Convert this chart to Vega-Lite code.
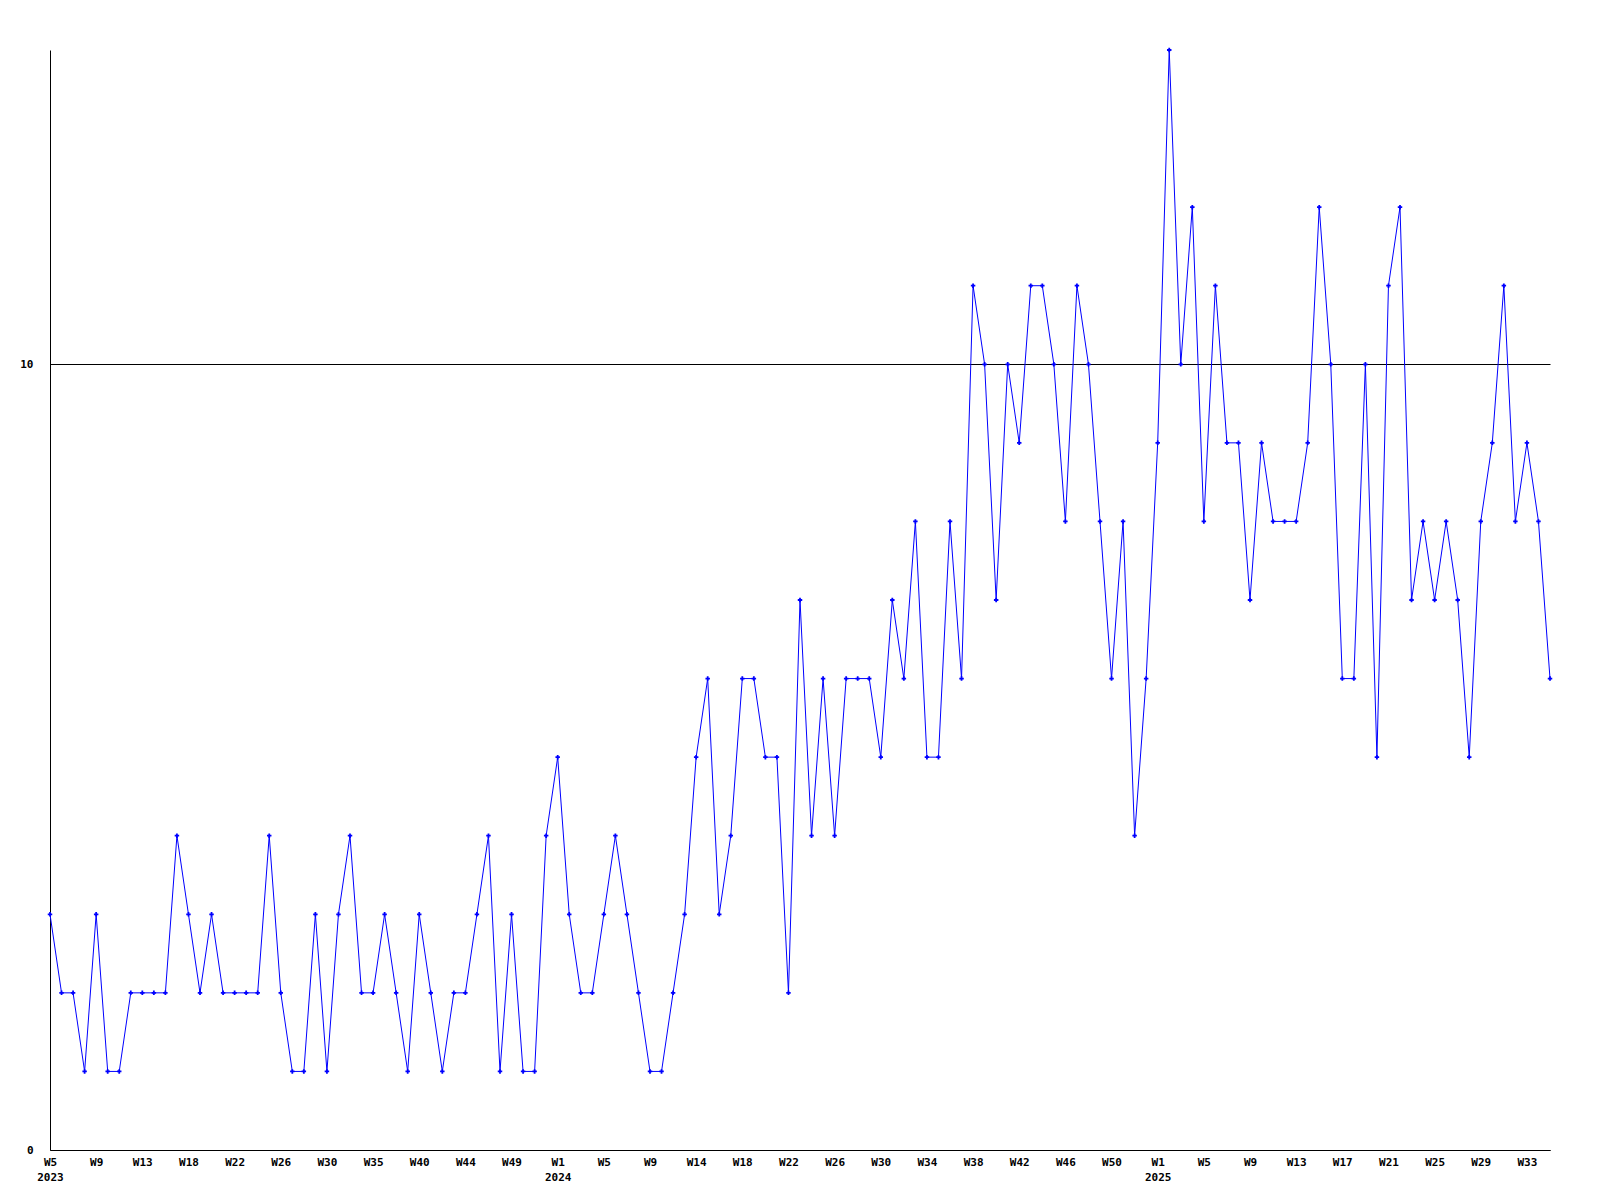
{
  "$schema": "https://vega.github.io/schema/vega-lite/v6.json",
  "width": 1500,
  "height": 1100,
  "autosize": "none",
  "padding": {"left": 50, "top": 50, "right": 50, "bottom": 50},
  "background": "white",
  "config": {
    "view": {"stroke": null},
    "axis": {"labelFont": "DejaVu Sans Mono", "labelFontSize": 11, "labelFontWeight": "bold", "labelColor": "black", "domainColor": "black", "domainWidth": 1, "ticks": false, "title": null}
  },
  "data": {
    "values": [
      {"week": "2023-W5", "count": 3}, {"week": "2023-W6", "count": 2}, {"week": "2023-W7", "count": 2}, {"week": "2023-W8", "count": 1},
      {"week": "2023-W9", "count": 3}, {"week": "2023-W10", "count": 1}, {"week": "2023-W11", "count": 1}, {"week": "2023-W12", "count": 2},
      {"week": "2023-W13", "count": 2}, {"week": "2023-W14", "count": 2}, {"week": "2023-W15", "count": 2}, {"week": "2023-W17", "count": 4},
      {"week": "2023-W18", "count": 3}, {"week": "2023-W19", "count": 2}, {"week": "2023-W20", "count": 3}, {"week": "2023-W21", "count": 2},
      {"week": "2023-W22", "count": 2}, {"week": "2023-W23", "count": 2}, {"week": "2023-W24", "count": 2}, {"week": "2023-W25", "count": 4},
      {"week": "2023-W26", "count": 2}, {"week": "2023-W27", "count": 1}, {"week": "2023-W28", "count": 1}, {"week": "2023-W29", "count": 3},
      {"week": "2023-W30", "count": 1}, {"week": "2023-W31", "count": 3}, {"week": "2023-W32", "count": 4}, {"week": "2023-W34", "count": 2},
      {"week": "2023-W35", "count": 2}, {"week": "2023-W36", "count": 3}, {"week": "2023-W37", "count": 2}, {"week": "2023-W39", "count": 1},
      {"week": "2023-W40", "count": 3}, {"week": "2023-W41", "count": 2}, {"week": "2023-W42", "count": 1}, {"week": "2023-W43", "count": 2},
      {"week": "2023-W44", "count": 2}, {"week": "2023-W45", "count": 3}, {"week": "2023-W46", "count": 4}, {"week": "2023-W48", "count": 1},
      {"week": "2023-W49", "count": 3}, {"week": "2023-W50", "count": 1}, {"week": "2023-W51", "count": 1}, {"week": "2023-W52", "count": 4},
      {"week": "2024-W1", "count": 5}, {"week": "2024-W2", "count": 3}, {"week": "2024-W3", "count": 2}, {"week": "2024-W4", "count": 2},
      {"week": "2024-W5", "count": 3}, {"week": "2024-W6", "count": 4}, {"week": "2024-W7", "count": 3}, {"week": "2024-W8", "count": 2},
      {"week": "2024-W9", "count": 1}, {"week": "2024-W10", "count": 1}, {"week": "2024-W11", "count": 2}, {"week": "2024-W13", "count": 3},
      {"week": "2024-W14", "count": 5}, {"week": "2024-W15", "count": 6}, {"week": "2024-W16", "count": 3}, {"week": "2024-W17", "count": 4},
      {"week": "2024-W18", "count": 6}, {"week": "2024-W19", "count": 6}, {"week": "2024-W20", "count": 5}, {"week": "2024-W21", "count": 5},
      {"week": "2024-W22", "count": 2}, {"week": "2024-W23", "count": 7}, {"week": "2024-W24", "count": 4}, {"week": "2024-W25", "count": 6},
      {"week": "2024-W26", "count": 4}, {"week": "2024-W27", "count": 6}, {"week": "2024-W28", "count": 6}, {"week": "2024-W29", "count": 6},
      {"week": "2024-W30", "count": 5}, {"week": "2024-W31", "count": 7}, {"week": "2024-W32", "count": 6}, {"week": "2024-W33", "count": 8},
      {"week": "2024-W34", "count": 5}, {"week": "2024-W35", "count": 5}, {"week": "2024-W36", "count": 8}, {"week": "2024-W37", "count": 6},
      {"week": "2024-W38", "count": 11}, {"week": "2024-W39", "count": 10}, {"week": "2024-W40", "count": 7}, {"week": "2024-W41", "count": 10},
      {"week": "2024-W42", "count": 9}, {"week": "2024-W43", "count": 11}, {"week": "2024-W44", "count": 11}, {"week": "2024-W45", "count": 10},
      {"week": "2024-W46", "count": 8}, {"week": "2024-W47", "count": 11}, {"week": "2024-W48", "count": 10}, {"week": "2024-W49", "count": 8},
      {"week": "2024-W50", "count": 6}, {"week": "2024-W51", "count": 8}, {"week": "2024-W52", "count": 4}, {"week": "2024-W53", "count": 6},
      {"week": "2025-W1", "count": 9}, {"week": "2025-W2", "count": 14}, {"week": "2025-W3", "count": 10}, {"week": "2025-W4", "count": 12},
      {"week": "2025-W5", "count": 8}, {"week": "2025-W6", "count": 11}, {"week": "2025-W7", "count": 9}, {"week": "2025-W8", "count": 9},
      {"week": "2025-W9", "count": 7}, {"week": "2025-W10", "count": 9}, {"week": "2025-W11", "count": 8}, {"week": "2025-W12", "count": 8},
      {"week": "2025-W13", "count": 8}, {"week": "2025-W14", "count": 9}, {"week": "2025-W15", "count": 12}, {"week": "2025-W16", "count": 10},
      {"week": "2025-W17", "count": 6}, {"week": "2025-W18", "count": 6}, {"week": "2025-W19", "count": 10}, {"week": "2025-W20", "count": 5},
      {"week": "2025-W21", "count": 11}, {"week": "2025-W22", "count": 12}, {"week": "2025-W23", "count": 7}, {"week": "2025-W24", "count": 8},
      {"week": "2025-W25", "count": 7}, {"week": "2025-W26", "count": 8}, {"week": "2025-W27", "count": 7}, {"week": "2025-W28", "count": 5},
      {"week": "2025-W29", "count": 8}, {"week": "2025-W30", "count": 9}, {"week": "2025-W31", "count": 11}, {"week": "2025-W32", "count": 8},
      {"week": "2025-W33", "count": 9}, {"week": "2025-W34", "count": 8}, {"week": "2025-W35", "count": 6}
    ]
  },
  "encoding": {
    "x": {
      "field": "week",
      "type": "ordinal",
      "sort": null,
      "scale": {"type": "point", "padding": 0},
      "axis": {
        "values": ["2023-W5", "2023-W9", "2023-W13", "2023-W18", "2023-W22", "2023-W26", "2023-W30", "2023-W35", "2023-W40", "2023-W44", "2023-W49", "2024-W1", "2024-W5", "2024-W9", "2024-W14", "2024-W18", "2024-W22", "2024-W26", "2024-W30", "2024-W34", "2024-W38", "2024-W42", "2024-W46", "2024-W50", "2025-W1", "2025-W5", "2025-W9", "2025-W13", "2025-W17", "2025-W21", "2025-W25", "2025-W29", "2025-W33"],
        "labelExpr": "(split(datum.value,'-')[1] == 'W1' || datum.value == '2023-W5') ? [split(datum.value,'-')[1], split(datum.value,'-')[0]] : split(datum.value,'-')[1]",
        "labelAngle": 0,
        "labelDx": -3,
        "labelPadding": 6,
        "labelLineHeight": 15,
        "labelOverlap": false,
        "labelFlush": false,
        "grid": false
      }
    },
    "y": {
      "field": "count",
      "type": "quantitative",
      "scale": {"domain": [0, 14], "nice": false, "zero": true},
      "axis": {"values": [0, 10], "grid": true, "gridColor": "black", "gridOpacity": 1, "gridWidth": 1, "labelPadding": 17}
    }
  },
  "layer": [
    {"mark": {"type": "line", "color": "#0000ff", "strokeWidth": 1}},
    {"mark": {"type": "point", "shape": "cross", "filled": true, "size": 20, "color": "#0000ff", "opacity": 1}}
  ]
}
